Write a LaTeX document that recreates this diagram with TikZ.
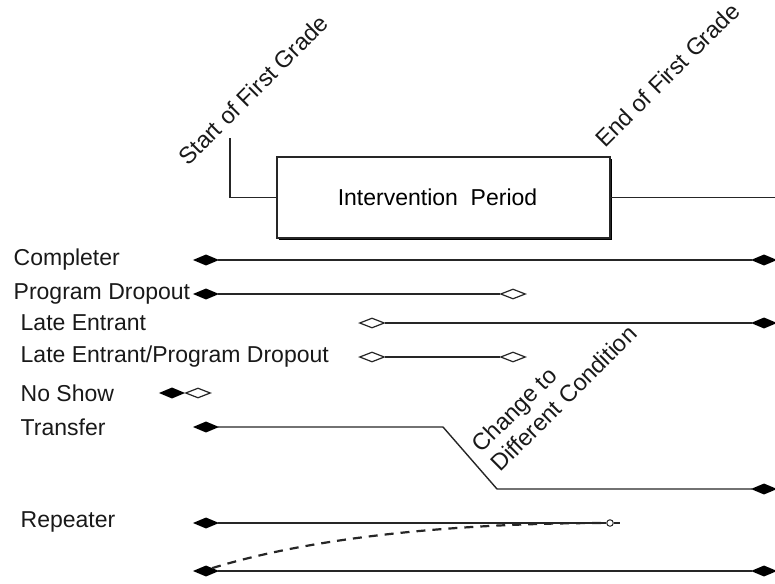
\documentclass[tikz,border=0pt]{standalone}
\usepackage{fontspec}
\setmainfont{Liberation Sans}
\usetikzlibrary{shapes.geometric,shadows}
\begin{document}
\begin{tikzpicture}[x=1pt,y=-1pt,line width=1.4pt,draw=black!85,
  fdia/.style={diamond,draw=black,fill=black,inner sep=0,minimum width=23pt,minimum height=10pt},
  odia/.style={diamond,draw=black!85,fill=white,line width=1.2pt,inner sep=0,minimum width=25pt,minimum height=10pt},
  lab/.style={anchor=west,inner sep=0,text=black!90,font=\fontsize{23}{27}\selectfont},
  rot/.style={rotate=45,inner sep=0,text=black!90,font=\fontsize{23.5}{27}\selectfont}]
\useasboundingbox (0,0) rectangle (775,583);
% header: first grade and intervention period
\node[draw,fill=white,drop shadow={shadow xshift=1.8pt,shadow yshift=-1.8pt,fill=black,opacity=1},minimum width=333pt,minimum height=81pt,inner sep=0,font=\fontsize{23}{27}\selectfont](box)at(443.5,197.5){Intervention\ \ Period\hspace*{12pt}};
\node[rot,anchor=base west](sfg)at(188,167){Start of First Grade};
\node[rot,anchor=base west](efg)at(605,149){End of First Grade};
\coordinate(sg)at(230,138);\coordinate(ge)at(775,197.5);
\draw(sg)|-(box.west);\draw(box.east)--(ge);
% row labels
\node[lab](lc)at(13,260){Completer};\node[lab](lp)at(13,294){Program Dropout};
\node[lab](le)at(20,323){Late Entrant};\node[lab](ld)at(20,357){Late Entrant/Program Dropout};
\node[lab](ln)at(20,393){No Show};\node[lab](lt)at(20,427){Transfer};\node[lab](lr)at(20,522){Repeater};
% time lines
\node[fdia](c1)at(206,260){};\node[fdia](c2)at(764,260){};\draw(c1)--(c2);
\node[fdia](p1)at(206,294){};\node[odia](p2)at(513,294){};\draw(p1)--(p2);
\node[odia](e1)at(372,323){};\node[fdia](e2)at(764,323){};\draw(e1)--(e2);
\node[odia](d1)at(372,357){};\node[odia](d2)at(513,357){};\draw(d1)--(d2);
\node[fdia](n1)at(172,393){};\node[odia](n2)at(198,393){};
\node[fdia](t1)at(206,427){};\coordinate(ta)at(443,427);\coordinate(tb)at(497,489);\node[fdia](t2)at(764,489){};
\draw(t1)--(ta)--(tb)--(t2);
\node[rot,anchor=west,align=left](chg)at(485,458){Change to\\Different Condition};
\node[fdia](r1)at(206,523){};\node[circle,draw,fill=white,line width=1pt,inner sep=0,minimum size=6.5pt](rc)at(610,523){};
\coordinate(re)at(620,523);\draw(r1)--(rc)--(re);
\node[fdia](b1)at(206,571){};\node[fdia](b2)at(764,571){};\draw(b1)--(b2);
\draw[line width=2.2pt,dash pattern=on 9pt off 7pt](b1.north east)..controls(313,537)and(456,523)..(rc.west);
\end{tikzpicture}
\end{document}
